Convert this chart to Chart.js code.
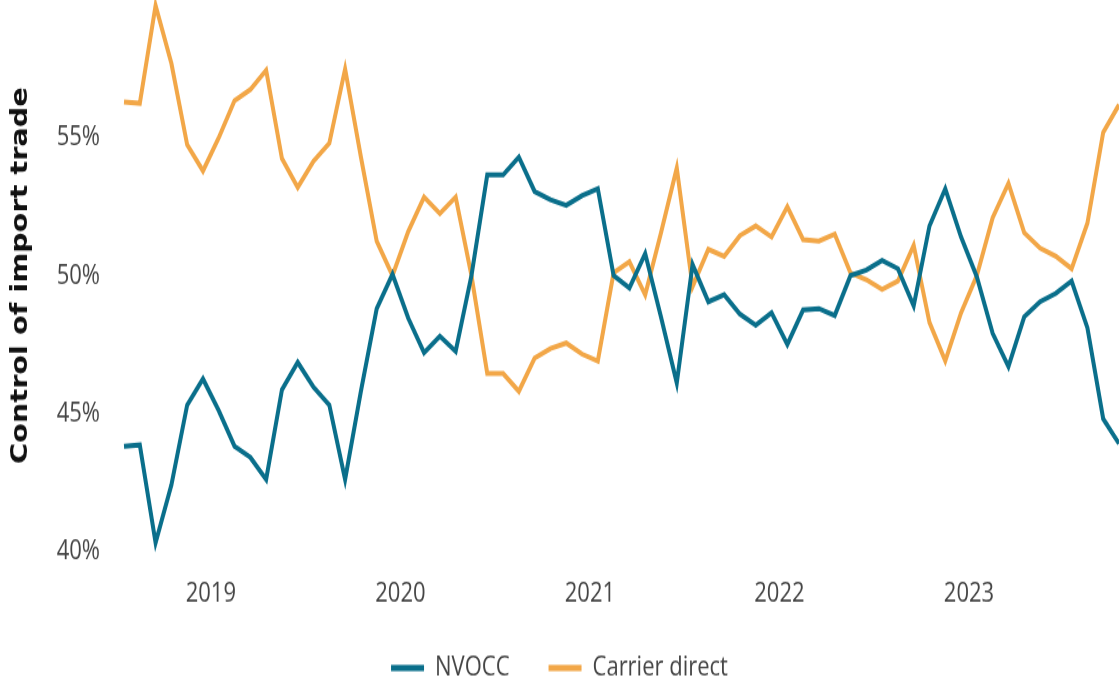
<!DOCTYPE html>
<html>
<head>
<meta charset="utf-8">
<script src="https://cdn.jsdelivr.net/npm/chart.js@4.4.1/dist/chart.umd.min.js"></script>
<style>
  html, body { margin: 0; padding: 0; background: #ffffff; overflow: hidden; width: 1119px; height: 688px; }
  #c { display: block; }
</style>
</head>
<body>
<canvas id="c" width="1119" height="550" style="width:1119px;height:688px;"></canvas>
<script>
// ---- data ----
const months = [
  '2018-07','2018-08','2018-09','2018-10','2018-11','2018-12',
  '2019-01','2019-02','2019-03','2019-04','2019-05','2019-06','2019-07','2019-08','2019-09','2019-10','2019-11','2019-12',
  '2020-01','2020-02','2020-03','2020-04','2020-05','2020-06','2020-07','2020-08','2020-09','2020-10','2020-11','2020-12',
  '2021-01','2021-02','2021-03','2021-04','2021-05','2021-06','2021-07','2021-08','2021-09','2021-10','2021-11','2021-12',
  '2022-01','2022-02','2022-03','2022-04','2022-05','2022-06','2022-07','2022-08','2022-09','2022-10','2022-11','2022-12',
  '2023-01','2023-02','2023-03','2023-04','2023-05','2023-06','2023-07','2023-08','2023-09','2023-10'
];
const nvocc = [
  43.8, 43.85, 40.3, 42.4, 45.3, 46.25, 45.1, 43.8, 43.4, 42.6, 45.85, 46.85,
  45.95, 45.3, 42.6, 45.8, 48.8, 50.05, 48.45, 47.2, 47.8, 47.25, 50.0, 53.65,
  53.65, 54.3, 53.05, 52.75, 52.55, 52.9, 53.15, 50.0, 49.55, 50.8, 48.5, 46.1,
  50.4, 49.05, 49.3, 48.6, 48.2, 48.65, 47.5, 48.75, 48.8, 48.55, 50.0, 50.2,
  50.55, 50.25, 48.9, 51.8, 53.15, 51.4, 49.95, 47.9, 46.7, 48.5, 49.05, 49.35,
  49.8, 48.1, 44.8, 43.9
];
const carrierDirect = [
  56.3, 56.25, 59.8, 57.7, 54.75, 53.8, 55.0, 56.35, 56.75, 57.45, 54.25, 53.2,
  54.15, 54.8, 57.5, 54.3, 51.25, 50.0, 51.6, 52.85, 52.25, 52.85, 50.0, 46.45,
  46.45, 45.8, 47.0, 47.35, 47.55, 47.15, 46.9, 50.1, 50.5, 49.3, 51.55, 53.9,
  49.6, 50.95, 50.7, 51.45, 51.8, 51.4, 52.5, 51.3, 51.25, 51.5, 50.1, 49.85,
  49.5, 49.8, 51.1, 48.3, 46.9, 48.65, 50.0, 52.1, 53.35, 51.55, 51.0, 50.7,
  50.25, 51.9, 55.2, 56.2
];
const yTickValues = [40, 45, 50, 55];
const seriesNames = ['NVOCC', 'Carrier direct'];

// year ticks at the start of each year (between Dec and Jan points)
const yearTicks = months
  .map((m, i) => m.endsWith('-01') ? { value: i - 0.5, label: m.slice(0, 4) } : null)
  .filter(Boolean);

// ---- layout / style ----
const H = 550;
const PLOT_LEFT = 124;
const PLOT_BOTTOM = 440.5;
const LEGEND_CENTER = 534;
const LEGEND_PAD = 39;
const FONT_SIZE = 22;
const TEAL = '#0a6f8b';
const ORANGE = '#f2a748';
const TEXT = '#454545';
const LABEL_FONT = { family: "'Open Sans', 'Noto Sans', sans-serif", size: FONT_SIZE, weight: 400 };

const layoutFix = {
  id: 'layoutFix',
  afterLayout(chart) {
    const lg = chart.legend;
    if (lg) {
      const h = lg.height;
      const top = LEGEND_CENTER - LEGEND_PAD - FONT_SIZE / 2;
      lg.top = top;
      lg.bottom = top + h;
    }
    const xs = chart.scales.x;
    if (xs) { xs.bottom = H; xs.height = H - xs.top; }
  }
};

const toXY = arr => arr.map((v, i) => ({ x: i, y: v }));

new Chart(document.getElementById('c'), {
  type: 'line',
  data: {
    datasets: [
      { label: seriesNames[0], data: toXY(nvocc), borderColor: TEAL, backgroundColor: TEAL,
        borderWidth: 4, pointRadius: 0, tension: 0, clip: 8, borderJoinStyle: 'miter' },
      { label: seriesNames[1], data: toXY(carrierDirect), borderColor: ORANGE, backgroundColor: ORANGE,
        borderWidth: 4, pointRadius: 0, tension: 0, clip: 8, borderJoinStyle: 'miter' }
    ]
  },
  options: {
    responsive: false,
    animation: false,
    devicePixelRatio: 1,
    layout: { padding: 0 },
    scales: {
      x: {
        type: 'linear',
        min: 0,
        max: months.length - 1,
        grid: { display: false, drawTicks: false },
        border: { display: false },
        afterBuildTicks(s) { s.ticks = yearTicks.map(t => ({ value: t.value })); },
        ticks: {
          autoSkip: false, maxRotation: 0, padding: 21, color: TEXT,
          font: LABEL_FONT,
          callback(v) {
            const t = yearTicks.find(t => Math.abs(t.value - v) < 1e-6);
            return t ? t.label : '';
          }
        },
        afterFit(s) {
          s.paddingLeft = 0; s.paddingRight = 0;
          const lh = s.chart.legend ? s.chart.legend.height : (2 * LEGEND_PAD + FONT_SIZE);
          s.height = H - lh - PLOT_BOTTOM;
        }
      },
      y: {
        min: 40,
        max: 60,
        grid: { display: false, drawTicks: false },
        border: { display: false },
        afterBuildTicks(s) { s.ticks = yTickValues.map(v => ({ value: v })); },
        ticks: {
          padding: 24, color: TEXT,
          font: LABEL_FONT,
          callback: v => v + '%'
        },
        title: {
          display: true,
          text: 'Control of import trade',
          color: '#111111',
          font: { family: 'DejaVu Sans', size: 23, weight: 'bold' },
          padding: { top: 7, bottom: 0 }
        },
        afterFit(s) { s.width = PLOT_LEFT; s.paddingTop = 0; s.paddingBottom = 0; }
      }
    },
    plugins: {
      legend: {
        position: 'bottom',
        labels: {
          boxWidth: 33, boxHeight: 5, padding: LEGEND_PAD, color: TEXT,
          font: LABEL_FONT,
          generateLabels(chart) {
            const items = Chart.defaults.plugins.legend.labels.generateLabels(chart);
            items.forEach(it => { it.lineWidth = 0; it.fillStyle = it.strokeStyle; });
            return items;
          }
        }
      },
      tooltip: { enabled: false }
    }
  },
  plugins: [layoutFix]
});
</script>
</body>
</html>
